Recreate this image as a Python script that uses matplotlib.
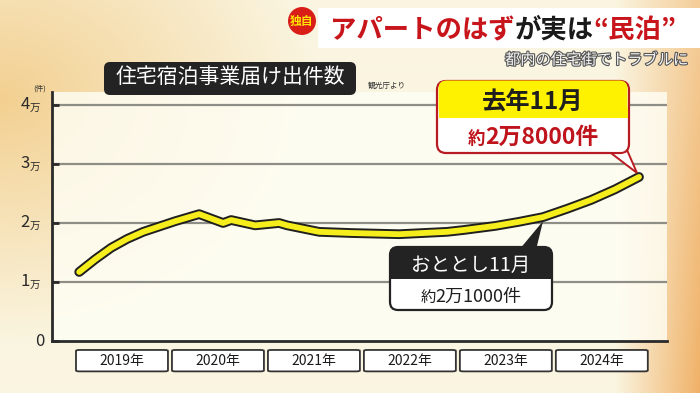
import numpy as np
import matplotlib
matplotlib.use("Agg")
import matplotlib.pyplot as plt
from matplotlib.patches import FancyBboxPatch, Polygon, Circle, Rectangle
from matplotlib.transforms import IdentityTransform, blended_transform_factory
import matplotlib.patheffects as pe

plt.rcParams['font.family'] = ['Noto Sans CJK JP', 'DejaVu Sans']

# months since Jan 2019, number of notifications (件)
months = [0, 2, 4, 6, 8, 10, 12, 15, 18, 19, 22, 25, 26, 30, 34, 40, 46, 48, 52, 55, 58, 61, 64, 67, 70]
counts = [11700, 13850, 15800, 17300, 18500, 19400, 20300, 21500, 20000, 20500, 19600,
          20000, 19600, 18500, 18300, 18100, 18500, 18800, 19500, 20200, 21000, 22400,
          23900, 25700, 27800]
years = ["2019年", "2020年", "2021年", "2022年", "2023年", "2024年"]
yticks = [0, 10000, 20000, 30000, 40000]
ytick_nums = ["0", "1", "2", "3", "4"]

W, H = 700, 393
fig = plt.figure(figsize=(W / 100, H / 100), dpi=100)


def px(x, y):
    # pixel coords from top-left -> display coords
    return x, H - y


# background gradient
bg = fig.add_axes([0, 0, 1, 1], zorder=-5)
xx, yy = np.meshgrid(np.linspace(0, 1, 350), np.linspace(0, 1, 200))
base = np.array([250, 245, 224]) / 255
warm = np.array([243, 208, 145]) / 255
orange = np.array([240, 178, 105]) / 255
left = np.clip(1 - np.hypot(xx * 2.2, (yy - 0.25) * 1.6), 0, 1)[..., None]
right = np.clip((xx - 0.88) / 0.12, 0, 1)[..., None] * (0.6 + 0.4 * yy[..., None])
img = base * (1 - left) + warm * left
img = img * (1 - right) + orange * right
bg.imshow(img, extent=[0, 1, 0, 1], aspect='auto', origin='upper')
bg.axis('off')

# main axes
ax = fig.add_axes([52 / W, (H - 341) / H, 615 / W, 249 / H])
ax.set_facecolor((1, 1, 0.965, 0.8))
ax.set_xlim(-3.4, 73.5)
ax.set_ylim(0, 42200)
for s in ['top', 'right']:
    ax.spines[s].set_visible(False)
for s in ['left', 'bottom']:
    ax.spines[s].set_color('#2a2a2a')
    ax.spines[s].set_linewidth(2)
ax.set_xticks([])
ax.set_yticks(yticks)
ax.set_yticklabels([])
ax.tick_params(axis='y', direction='in', length=5, width=2, color='#2a2a2a')
for v in yticks[1:]:
    ax.axhline(v, color='#8e8e86', lw=1.6, zorder=1)

# y tick labels with small 万
tr_y = blended_transform_factory(ax.transAxes, ax.transData)
for v, n in zip(yticks, ytick_nums):
    if n == "0":
        ax.text(-0.012, v, n, transform=tr_y, ha='right', va='center',
                fontsize=12, color='#2a2a2a')
    else:
        ax.text(-0.036, v, n, transform=tr_y, ha='right', va='center',
                fontsize=12, color='#2a2a2a')
        ax.text(-0.036, v - 600, "万", transform=tr_y, ha='left', va='center',
                fontsize=7.5, color='#2a2a2a')
fig.text(40 / W, 1 - 89 / H, "(件)", fontsize=5.5,
         color='#333333', ha='center', va='center')

# line
ax.plot(months, counts, color='#f6ee1c', lw=4.2, solid_capstyle='round',
        solid_joinstyle='round', zorder=5,
        path_effects=[pe.Stroke(linewidth=7, foreground='#1f1f1f'), pe.Normal()])

# year boxes
tr_x = blended_transform_factory(ax.transData, ax.transAxes)
for k, lab in enumerate(years):
    x0 = 12 * k - 0.4
    ax.add_patch(FancyBboxPatch((x0, -0.122), 11.5, 0.086, transform=tr_x,
                                boxstyle="round,pad=0,rounding_size=0.4",
                                mutation_aspect=0.01,
                                fc='white', ec='#333333', lw=1.3, clip_on=False))
    ax.text(x0 + 5.75, -0.079, lab, transform=tr_x, ha='center', va='center',
            fontsize=10, color='#1a1a1a')

ident = IdentityTransform()


def runs_text(x, y, runs, ha='center', **kw):
    # draw a row of text pieces with different sizes / colours
    r = fig.canvas.get_renderer()
    objs = []
    for txt, size, col, wt in runs:
        t = fig.text(0, 0, txt, fontsize=size, color=col, fontweight=wt,
                     va='baseline', transform=ident, **kw)
        objs.append(t)
    widths = [t.get_window_extent(r).width for t in objs]
    total = sum(widths)
    cx = x - total / 2 if ha == 'center' else (x - total if ha == 'right' else x)
    for t, w in zip(objs, widths):
        t.set_position((cx, y))
        cx += w
    return objs


# headline banner
fig.patches.append(Rectangle(px(318, 48), 382, 40, transform=ident, fc='white',
                             ec='none', zorder=2))
fig.patches.append(Circle(px(302, 21), 14, transform=ident, fc='#d91e18', ec='none', zorder=3))
fig.text(*px(302, 21), "独自", transform=ident, fontsize=8.5, color='#ffe500',
         fontweight='bold', ha='center', va='center', zorder=4)
runs_text(503, H - 38, [("アパートのはず", 19, '#c8151b', 'bold'),
                        ("が実は", 19, '#1a1a1a', 'bold'),
                        ("“民泊”", 19, '#c8151b', 'bold')], zorder=4)
fig.text(*px(688, 60), "都内の住宅街でトラブルに", transform=ident, fontsize=11,
         color='#f6f6f6', ha='right', va='center',
         path_effects=[pe.withStroke(linewidth=1.6, foreground='#555555')])

# chart title
fig.patches.append(FancyBboxPatch(px(104, 95), 252, 33, transform=ident,
                                  boxstyle="round,pad=0,rounding_size=6",
                                  fc='#232323', ec='none'))
fig.text(*px(230, 77), "住宅宿泊事業届け出件数", transform=ident, fontsize=15,
         color='white', ha='center', va='center')
fig.text(*px(368, 86), "観光庁より", transform=ident, fontsize=5.5,
         color='#333333', ha='left', va='center')

# callout: last November
tip1 = ax.transData.transform((months[-1], counts[-1]))
fig.patches.append(Polygon([px(607, 150), px(627, 150), (tip1[0] - 2, tip1[1] + 4)],
                           closed=True, transform=ident, fc='white', ec='#b81c22', lw=1.4, zorder=6))
fig.patches.append(FancyBboxPatch(px(437, 153), 192, 72, transform=ident,
                                  boxstyle="round,pad=0,rounding_size=9",
                                  fc='white', ec='#b81c22', lw=1.6, zorder=7))
fig.patches.append(FancyBboxPatch(px(438.5, 116), 189, 35.5, transform=ident,
                                  boxstyle="round,pad=0,rounding_size=8",
                                  fc='#fff200', ec='none', zorder=7.5))
fig.patches.append(Rectangle(px(438.5, 118), 189, 10, transform=ident,
                             fc='#fff200', ec='none', zorder=7.5))
fig.patches.append(Polygon([px(609, 151.5), px(625, 151.5), px(617, 150)],
                           transform=ident, fc='white', ec='none', zorder=7.6))
runs_text(533, H - 109, [("去年11月", 17.5, '#1e1e1e', 'bold')], zorder=8)
runs_text(533, H - 144, [("約", 12.5, '#c0141c', 'bold'),
                         ("2万8000件", 16.5, '#c0141c', 'bold')], zorder=8)

# callout: November two years ago
i2 = months.index(58)
tip2 = ax.transData.transform((months[i2], counts[i2]))
fig.patches.append(Polygon([px(519, 250), px(536, 250), (tip2[0], tip2[1] - 4)],
                           closed=True, transform=ident, fc='#232323', ec='none', zorder=6))
fig.patches.append(FancyBboxPatch(px(390, 310), 162, 63, transform=ident,
                                  boxstyle="round,pad=0,rounding_size=8",
                                  fc='white', ec='#232323', lw=1.6, zorder=7))
fig.patches.append(FancyBboxPatch(px(390, 279), 162, 32, transform=ident,
                                  boxstyle="round,pad=0,rounding_size=8",
                                  fc='#232323', ec='none', zorder=7.5))
fig.patches.append(Rectangle(px(390, 279), 162, 10, transform=ident,
                             fc='#232323', ec='none', zorder=7.5))
runs_text(471, H - 271, [("おととし11月", 14, 'white', 'normal')], zorder=8)
runs_text(471, H - 302, [("約", 11, '#1e1e1e', 'normal'),
                         ("2万1000件", 13, '#1e1e1e', 'normal')], zorder=8)

fig.savefig("out.png", dpi=100)
